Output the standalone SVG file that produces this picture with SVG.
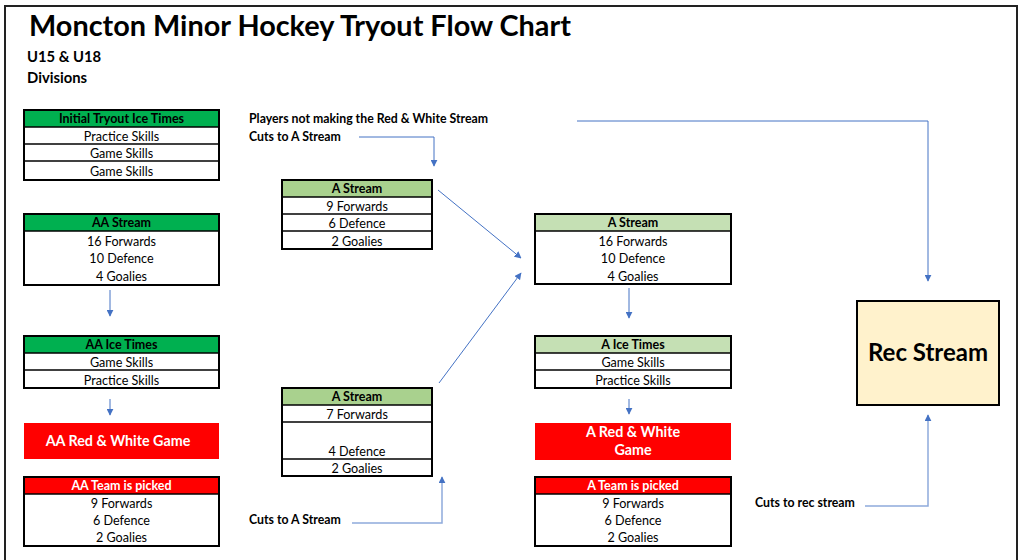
<svg xmlns="http://www.w3.org/2000/svg" width="1024" height="560" viewBox="0 0 1024 560">
<defs>
<marker id="ah" viewBox="0 0 10 10" refX="9" refY="5" markerWidth="7" markerHeight="7" markerUnits="userSpaceOnUse" orient="auto">
<path d="M0,0 L10,5 L0,10 z" fill="#4472C4"/>
</marker>
<style>
text{font-family:Lato,"Open Sans","Liberation Sans",sans-serif;}
.t{font-size:12.6px;fill:#000;text-anchor:middle;}
.h{font-size:12.5px;font-weight:bold;text-anchor:middle;}
.big{font-size:14.3px;font-weight:bold;text-anchor:middle;fill:#fff;}
.lab{font-size:12.3px;font-weight:bold;fill:#000;}
.box{fill:#fff;stroke:#000;stroke-width:2;}
.row{stroke:#000;stroke-width:1.5;}
.g1{fill:#00B050;}
.g2{fill:#A9D18E;}
.g3{fill:#C5E0B4;}
.red{fill:#FF0000;}
.c{fill:none;stroke:#4472C4;stroke-width:1;}
.cl{fill:none;stroke:#8FAADC;stroke-width:1.5;}
</style>
</defs>
<rect x="0" y="0" width="1024" height="560" fill="#fff"/>
<path d="M5,562 V6 H1017 V562" fill="none" stroke="#222" stroke-width="2"/>
<text x="29" y="36" font-size="28" font-weight="bold" textLength="542" lengthAdjust="spacingAndGlyphs">Moncton Minor Hockey Tryout Flow Chart</text>
<text x="27" y="62" font-size="14.8" font-weight="bold">U15 &amp; U18</text>
<text x="27" y="83" font-size="14.8" font-weight="bold">Divisions</text>

<g id="initial-tryout">
<rect class="box" x="24" y="110" width="195" height="70"/>
<rect class="g1" x="25" y="111" width="193" height="16"/>
<line class="row" x1="24" y1="127" x2="219" y2="127"/>
<line class="row" x1="24" y1="144" x2="219" y2="144"/>
<line class="row" x1="24" y1="161" x2="219" y2="161"/>
<text class="h" x="121.5" y="123">Initial Tryout Ice Times</text>
<text class="t" x="121.5" y="140.5">Practice Skills</text>
<text class="t" x="121.5" y="157.5">Game Skills</text>
<text class="t" x="121.5" y="175.5">Game Skills</text>
</g>

<g id="aa-stream">
<rect class="box" x="24" y="214" width="195" height="71"/>
<rect class="g1" x="25" y="215" width="193" height="16"/>
<line class="row" x1="24" y1="231" x2="219" y2="231"/>
<text class="h" x="121.5" y="227">AA Stream</text>
<text class="t" x="121.5" y="245.5">16 Forwards</text>
<text class="t" x="121.5" y="262.5">10 Defence</text>
<text class="t" x="121.5" y="280.5">4 Goalies</text>
</g>

<g id="aa-ice-times">
<rect class="box" x="24" y="336" width="195" height="52"/>
<rect class="g1" x="25" y="337" width="193" height="16"/>
<line class="row" x1="24" y1="353" x2="219" y2="353"/>
<line class="row" x1="24" y1="370" x2="219" y2="370"/>
<text class="h" x="121.5" y="349">AA Ice Times</text>
<text class="t" x="121.5" y="366.5">Game Skills</text>
<text class="t" x="121.5" y="384.5">Practice Skills</text>
</g>

<g id="aa-red-white">
<rect class="red" x="24" y="423" width="195" height="36"/>
<text class="big" x="118" y="446">AA Red &amp; White Game</text>
</g>

<g id="aa-team">
<rect class="box" x="24" y="477" width="195" height="69"/>
<rect class="red" x="25" y="478" width="193" height="16"/>
<line class="row" x1="24" y1="494" x2="219" y2="494"/>
<text class="h" x="121.5" y="490" fill="#fff">AA Team is picked</text>
<text class="t" x="121.5" y="507.5">9 Forwards</text>
<text class="t" x="121.5" y="524.5">6 Defence</text>
<text class="t" x="121.5" y="541.5">2 Goalies</text>
</g>

<g id="a-stream-top">
<rect class="box" x="282" y="180" width="150" height="69"/>
<rect class="g2" x="283" y="181" width="148" height="16"/>
<line class="row" x1="282" y1="197" x2="432" y2="197"/>
<line class="row" x1="282" y1="214" x2="432" y2="214"/>
<line class="row" x1="282" y1="231" x2="432" y2="231"/>
<text class="h" x="357" y="193">A Stream</text>
<text class="t" x="357" y="210.5">9 Forwards</text>
<text class="t" x="357" y="227.5">6 Defence</text>
<text class="t" x="357" y="245.5">2 Goalies</text>
</g>

<g id="a-stream-bottom">
<rect class="box" x="282" y="388" width="150" height="88"/>
<rect class="g2" x="283" y="389" width="148" height="16"/>
<line class="row" x1="282" y1="405" x2="432" y2="405"/>
<line class="row" x1="282" y1="422" x2="432" y2="422"/>
<line class="row" x1="282" y1="459" x2="432" y2="459"/>
<text class="h" x="357" y="401">A Stream</text>
<text class="t" x="357" y="418.5">7 Forwards</text>
<text class="t" x="357" y="455.5">4 Defence</text>
<text class="t" x="357" y="472.5">2 Goalies</text>
</g>

<g id="a-stream-main">
<rect class="box" x="535" y="214" width="196" height="70"/>
<rect class="g3" x="536" y="215" width="194" height="16"/>
<line class="row" x1="535" y1="231" x2="731" y2="231"/>
<text class="h" x="633" y="227">A Stream</text>
<text class="t" x="633" y="245.5">16 Forwards</text>
<text class="t" x="633" y="262.5">10 Defence</text>
<text class="t" x="633" y="280.5">4 Goalies</text>
</g>

<g id="a-ice-times">
<rect class="box" x="535" y="336" width="196" height="52"/>
<rect class="g3" x="536" y="337" width="194" height="16"/>
<line class="row" x1="535" y1="353" x2="731" y2="353"/>
<line class="row" x1="535" y1="370" x2="731" y2="370"/>
<text class="h" x="633" y="349">A Ice Times</text>
<text class="t" x="633" y="366.5">Game Skills</text>
<text class="t" x="633" y="384.5">Practice Skills</text>
</g>

<g id="a-red-white">
<rect class="red" x="535" y="423" width="196" height="37"/>
<text class="big" x="633" y="437">A Red &amp; White</text>
<text class="big" x="633" y="455">Game</text>
</g>

<g id="a-team">
<rect class="box" x="535" y="477" width="196" height="69"/>
<rect class="red" x="536" y="478" width="194" height="16"/>
<line class="row" x1="535" y1="494" x2="731" y2="494"/>
<text class="h" x="633" y="490" fill="#fff">A Team is picked</text>
<text class="t" x="633" y="507.5">9 Forwards</text>
<text class="t" x="633" y="524.5">6 Defence</text>
<text class="t" x="633" y="541.5">2 Goalies</text>
</g>

<g id="rec-stream">
<rect x="857" y="301" width="142" height="104" fill="#FFF2CC" stroke="#000" stroke-width="2"/>
<text x="928" y="361" font-size="24" font-weight="bold" text-anchor="middle">Rec Stream</text>
</g>

<g id="labels">
<text class="lab" x="249" y="123">Players not making the Red &amp; White Stream</text>
<text class="lab" x="249" y="141">Cuts to A Stream</text>
<text class="lab" x="249" y="524">Cuts to A Stream</text>
<text class="lab" x="755" y="507">Cuts to rec stream</text>
</g>

<g id="connectors">
<path class="c" d="M359,137 H434 V166" marker-end="url(#ah)"/>
<path class="c" d="M438,190 L521,258" marker-end="url(#ah)"/>
<path class="c" d="M439,383 L521,273" marker-end="url(#ah)"/>
<path class="c" d="M577,121 H928 V281" marker-end="url(#ah)"/>
<path class="c" d="M110,290 V316" marker-end="url(#ah)"/>
<path class="c" d="M110,399 V415" marker-end="url(#ah)"/>
<path class="c" d="M629,288 V318" marker-end="url(#ah)"/>
<path class="c" d="M629,399 V414" marker-end="url(#ah)"/>
<path class="cl" d="M352,523 H442 V477" marker-end="url(#ah)"/>
<path class="cl" d="M865,506 H928 V415" marker-end="url(#ah)"/>
</g>
</svg>
